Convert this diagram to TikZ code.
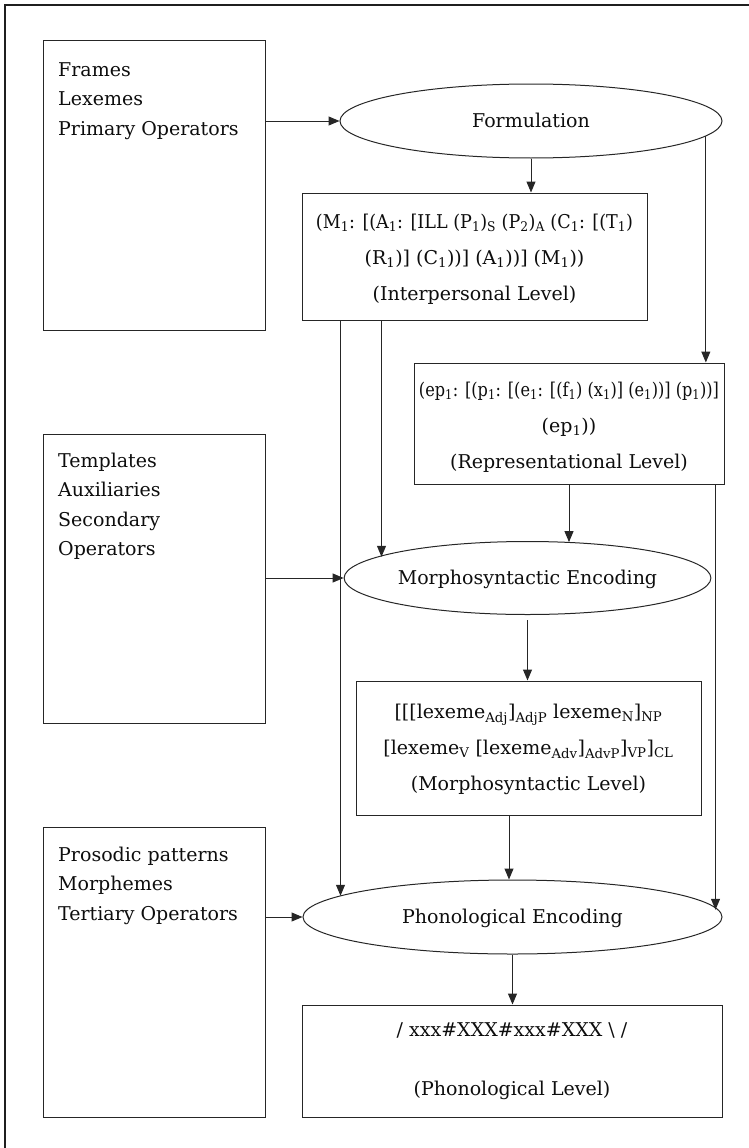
\documentclass[tikz,border=0pt]{standalone}
\usepackage{fontspec}
\usepackage{graphicx}
\setmainfont{DejaVu Serif}
\usetikzlibrary{shapes.geometric,arrows.meta,calc}
\newcommand\sbx[1]{\textsubscript{#1}}
\begin{document}
\begin{tikzpicture}[x=1pt,y=-1pt,
  boxnode/.style={draw=black!85, line width=1pt, rectangle, inner sep=0pt},
  ellnode/.style={draw=black!85, line width=1pt, ellipse, inner sep=0pt, text=black!95,
    font=\fontsize{19}{23}\selectfont, text height=14.4pt, text depth=2.4pt},
  lvltext/.style={align=center, font=\fontsize{19}{36}\selectfont, anchor=base, inner sep=0pt, text=black!95},
  listtext/.style={align=left, font=\fontsize{19}{29.3}\selectfont, anchor=base west, inner sep=0pt, text=black!95},
  conn/.style={draw=black!85, line width=1pt, -{Triangle[length=11pt,width=9pt]}},
]
\useasboundingbox (0,0) rectangle (749,1148);
\draw[line width=2.5pt, black!88] (5,1148) -- (5,5) -- (749,5);

% resource boxes (text anchored at the baseline of its last line)
\node[boxnode, minimum width=222pt, minimum height=289pt] (b1) at (154,185.5) {};
\node[boxnode, minimum width=222pt, minimum height=289pt] (b2) at (154,578.5) {};
\node[boxnode, minimum width=222pt, minimum height=290pt] (b3) at (154,972) {};
\node[listtext] (t1) at (58,135) {Frames\\Lexemes\\Primary Operators};
\node[listtext] (t2) at (58,555.5) {Templates\\Auxiliaries\\Secondary\\Operators};
\node[listtext] (t3) at (58,920) {Prosodic patterns\\Morphemes\\Tertiary Operators};

% processes
\node[ellnode, minimum width=382pt, minimum height=74pt] (form) at (531,121) {Formulation};
\node[ellnode, minimum width=343pt, minimum height=73pt] (me) at (527.5,578) {Morphosyntactic Encoding};
\node[ellnode, minimum width=419pt, minimum height=74pt] (pe) at (512.5,917) {Phonological Encoding};

% levels
\node[boxnode, minimum width=345pt, minimum height=127pt] (il) at (474.5,256.5) {};
\node[lvltext] (ilt) at (474.5,300)
  {\resizebox{317pt}{\height}{(M\sbx{1}: [(A\sbx{1}: [ILL (P\sbx{1})\sbx{S} (P\sbx{2})\sbx{A} (C\sbx{1}: [(T\sbx{1})}\\
   (R\sbx{1})] (C\sbx{1}))] (A\sbx{1}))] (M\sbx{1}))\\
   (Interpersonal Level)};
\node[boxnode, minimum width=310pt, minimum height=121pt] (rl) at (569,423.5) {};
\node[lvltext] (rlt) at (569,468)
  {\resizebox{300pt}{\height}{(ep\sbx{1}: [(p\sbx{1}: [(e\sbx{1}: [(f\sbx{1}) (x\sbx{1})] (e\sbx{1}))] (p\sbx{1}))]}\\
   (ep\sbx{1}))\\
   (Representational Level)};
\node[boxnode, minimum width=345pt, minimum height=134pt] (ms) at (528.5,748) {};
\node[lvltext] (mst) at (528.5,790)
  {[[[lexeme\sbx{Adj}]\sbx{AdjP} lexeme\sbx{N}]\sbx{NP}\\
   {}[lexeme\sbx{V} [lexeme\sbx{Adv}]\sbx{AdvP}]\sbx{VP}]\sbx{CL}\\
   (Morphosyntactic Level)};
\node[boxnode, minimum width=420pt, minimum height=112pt] (pl) at (512,1061) {};
\node[lvltext, font=\fontsize{19}{29.2}\selectfont] (plt) at (512,1095)
  {/ xxx\#XXX\#xxx\#XXX \textbackslash{} /\\ \mbox{}\\ (Phonological Level)};

% connectors
\draw[conn] (form.west -| b1.east) -- (form.west);
\draw[conn] (form.south) -- (form.south |- il.north);
\coordinate (fr) at (form.-5.5);
\draw[conn] (fr) -- (fr |- rl.north);
\coordinate (ila) at ($(il.south west)+(39,0)$);
\coordinate (ilb) at ($(il.south west)+(80,0)$);
\draw[conn] (ila) -- (ila |- pe.173);
\draw[conn] (ilb) -- (ilb |- me.172.4);
\draw[conn] (rl.south) -- (rl.south |- me.39.8);
\coordinate (rlr) at ($(rl.south east)+(-9,0)$);
\draw[conn] (rlr) -- (rlr |- pe.2.7);
\draw[conn] (me.west -| b2.east) -- (me.west);
\draw[conn, shorten <=5pt] (me.south) -- (me.south |- ms.north);
\coordinate (msb) at ($(ms.south)+(-19.5,0)$);
\draw[conn] (msb) -- (msb |- pe.north);
\draw[conn] (pe.west -| b3.east) -- (pe.west);
\draw[conn] (pe.south) -- (pe.south |- pl.north);
\end{tikzpicture}
\end{document}
